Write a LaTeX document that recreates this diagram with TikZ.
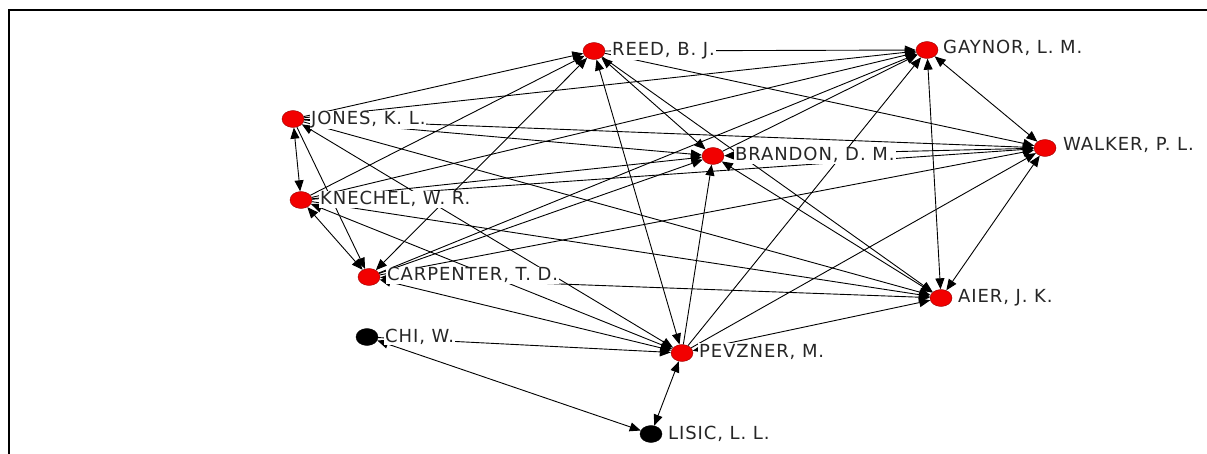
\documentclass[tikz,border=0pt]{standalone}
\usepackage{fontspec}
\setmainfont{DejaVu Sans}
\usetikzlibrary{arrows.meta,shapes.geometric}
\tikzset{
 vert/.style={ellipse, fill=red!95!black, draw=red!60!black, line width=0.4pt, minimum width=22pt, minimum height=17pt, inner sep=0pt},
 bvert/.style={vert, fill=black, draw=black},
 lab/.style={anchor=base west, fill=white, inner xsep=1pt, inner ysep=0.5pt, text=black!85, font=\fontsize{18}{18}\selectfont\addfontfeature{LetterSpace=5}},
 lk/.style={draw=black, line width=0.9pt, >={Triangle[length=11pt,width=9pt]}}
}
\begin{document}
\begin{tikzpicture}[x=1pt,y=-1pt]
\useasboundingbox (0,0) rectangle (1207,454);
\fill[white] (0,0) rectangle (1207,454);
\draw[line width=2pt] (9,455) -- (9,10) -- (1208,10);
% vertices
\node[vert] (R) at (594,51) {};
\node[vert] (G) at (927,50) {};
\node[vert] (J) at (293,119) {};
\node[vert] (B) at (713,156) {};
\node[vert] (W) at (1045,148) {};
\node[vert] (K) at (301,200) {};
\node[vert] (C) at (369,277) {};
\node[vert] (A) at (941,298) {};
\node[bvert] (CH) at (367,337) {};
\node[vert] (P) at (682,353) {};
\node[bvert] (L) at (651,434) {};
% ties
\draw[lk,<->] (J) -- (K);
\draw[lk,->] (J) -- (C);
\draw[lk,<->] (K) -- (C);
\draw[lk,->] (J) -- (R);
\draw[lk,->] (K) -- (R);
\draw[lk,<->] (C) -- (R);
\draw[lk,->] (J) -- (G);
\draw[lk,->] (K) -- (G);
\draw[lk,->] (C) -- (G);
\draw[lk,->] (J) -- (B);
\draw[lk,->] (K) -- (B);
\draw[lk,->] (C) -- (B);
\draw[lk,->] (J) -- (W);
\draw[lk,->] (K) -- (W);
\draw[lk,->] (C) -- (W);
\draw[lk,<->] (J) -- (P);
\draw[lk,<->] (K) -- (P);
\draw[lk,<->] (C) -- (P);
\draw[lk,->] (J) -- (A);
\draw[lk,->] (K) -- (A);
\draw[lk,<->] (C) -- (A);
\draw[lk,->] (R) -- (G);
\draw[lk,<->] (R) -- (B);
\draw[lk,->] (R) -- (A);
\draw[lk,->] (R) -- (W);
\draw[lk,<->] (R) -- (P);
\draw[lk,->] (B) -- (G);
\draw[lk,<->] (B) -- (W);
\draw[lk,<->] (B) -- (A);
\draw[lk,->] (P) -- (B);
\draw[lk,->] (P) -- (G);
\draw[lk,->] (P) -- (W);
\draw[lk,<->] (P) -- (A);
\draw[lk,<->] (G) -- (W);
\draw[lk,<->] (G) -- (A);
\draw[lk,<->] (A) -- (W);
\draw[lk,->] (CH) -- (P);
\draw[lk,<->] (CH) -- (L);
\draw[lk,<->] (P) -- (L);
% labels
\node[lab] (Rl) at (611,56) {REED, B. J.};
\node[lab] (Gl) at (942,54) {GAYNOR, L. M.};
\node[lab] (Jl) at (310,125) {JONES, K. L.};
\node[lab] (Bl) at (734,161) {BRANDON, D. M.};
\node[lab] (Wl) at (1062,151) {WALKER, P. L.};
\node[lab] (Kl) at (319,205) {KNECHEL, W. R.};
\node[lab] (Cl) at (386,281) {CARPENTER, T. D.};
\node[lab] (Al) at (957,302) {AIER, J. K.};
\node[lab] (CHl) at (384,342) {CHI, W.};
\node[lab] (Pl) at (698,357) {PEVZNER, M.};
\node[lab] (Ll) at (667,439) {LISIC, L. L.};
\end{tikzpicture}
\end{document}
